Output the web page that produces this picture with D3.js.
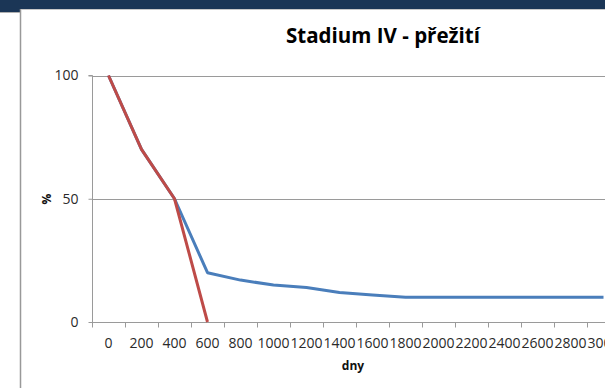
<!DOCTYPE html>
<html>
<head>
<meta charset="utf-8">
<script src="https://cdn.jsdelivr.net/npm/d3@7"></script>
<style>
  html, body { margin: 0; padding: 0; background: #fff; overflow: hidden; }
  svg { display: block; }
</style>
</head>
<body>
<svg id="chart" width="605" height="388"></svg>
<script>
// Survival over time (days), stage IV
const days = ["0","200","400","600","800","1000","1200","1400","1600","1800","2000","2200","2400","2600","2800","3000"];
const survivalBlue = [100, 70, 50, 20, 17, 15, 14, 12, 11, 10, 10, 10, 10, 10, 10, 10];
const survivalRed  = [100, 70, 50, 0, null, null, null, null, null, null, null, null, null, null, null, null];
const yTicks = [0, 50, 100];

const svg = d3.select("#chart");
const W = 605, H = 388;

// slide background strip and chart frame
svg.append("rect").attr("x", 0).attr("y", 0).attr("width", W).attr("height", 12).attr("fill", "#1b3656");
svg.append("rect").attr("x", 21).attr("y", 9).attr("width", W - 21).attr("height", H - 9).attr("fill", "#fff");
svg.append("line").attr("x1", 0).attr("x2", 20).attr("y1", 12.5).attr("y2", 12.5).attr("stroke", "#b0b0b0").attr("stroke-width", 1);
svg.append("line").attr("x1", 20.5).attr("x2", 20.5).attr("y1", 9).attr("y2", H).attr("stroke", "#999").attr("stroke-width", 1.5);
svg.append("line").attr("x1", 21).attr("x2", W).attr("y1", 9.5).attr("y2", 9.5).attr("stroke", "#c8c8c8").attr("stroke-width", 1);

const x = d3.scaleBand().domain(days).range([92, 92 + 33 * days.length]);
const y = d3.scaleLinear().domain([0, 100]).range([322, 75.5]);

const labelFont = "'Open Sans', sans-serif";

// horizontal gridlines
svg.append("g").selectAll("line").data(yTicks.filter(d => d > 0)).join("line")
  .attr("x1", 92).attr("x2", W)
  .attr("y1", d => Math.round(y(d)) + 0.5).attr("y2", d => Math.round(y(d)) + 0.5)
  .attr("stroke", "#9a9a9a").attr("stroke-width", 1);

// y axis
const yAxis = svg.append("g").attr("transform", "translate(92.5,0)")
  .call(d3.axisLeft(y).tickValues(yTicks).tickSize(4).tickPadding(10));
yAxis.select(".domain").attr("stroke", "#9a9a9a").attr("d", `M-4,${y(100)}H0V${y(0) + 0.5}`);
yAxis.selectAll(".tick line").attr("stroke", "#9a9a9a");
yAxis.selectAll(".tick text").attr("fill", "#2a2a2a").style("font-family", labelFont).style("font-size", "14px");

// x axis: ticks sit at category boundaries
const xAxisG = svg.append("g").attr("transform", `translate(0,${Math.round(y(0)) + 0.5})`);
xAxisG.append("line").attr("x1", 92).attr("x2", W).attr("stroke", "#9a9a9a");
const bounds = days.map(d => x(d)).concat([x(days[days.length - 1]) + x.bandwidth()]);
xAxisG.selectAll("line.tk").data(bounds).join("line").attr("class", "tk")
  .attr("x1", d => Math.round(d) + 0.5).attr("x2", d => Math.round(d) + 0.5)
  .attr("y1", 0).attr("y2", 5).attr("stroke", "#9a9a9a");
xAxisG.selectAll("text").data(days).join("text")
  .attr("x", d => x(d) + x.bandwidth() / 2).attr("y", 25)
  .attr("text-anchor", "middle").attr("fill", "#2a2a2a")
  .style("font-family", labelFont).style("font-size", "14px")
  .text(d => d);

// axis titles
svg.append("text").attr("x", 353).attr("y", 370).attr("text-anchor", "middle")
  .style("font-family", labelFont).style("font-size", "12px").style("font-weight", "bold")
  .attr("fill", "#111").text("dny");
svg.append("text").attr("transform", "translate(51,199) rotate(-90)").attr("text-anchor", "middle")
  .style("font-family", labelFont).style("font-size", "12px").style("font-weight", "bold")
  .attr("fill", "#111").text("%");

// chart title
svg.append("text").attr("x", 383).attr("y", 43).attr("text-anchor", "middle")
  .style("font-family", labelFont).style("font-size", "20.5px").style("font-weight", "bold")
  .attr("fill", "#000").text("Stadium IV - přežití");

// series lines
const line = d3.line()
  .defined(d => d.v != null)
  .x(d => x(d.k) + x.bandwidth() / 2)
  .y(d => y(d.v));

const toPts = arr => days.map((k, i) => ({ k, v: arr[i] }));

svg.append("path").datum(toPts(survivalBlue)).attr("d", line)
  .attr("fill", "none").attr("stroke", "#4a7ebb").attr("stroke-width", 3).attr("stroke-linejoin", "round");
svg.append("path").datum(toPts(survivalRed)).attr("d", line)
  .attr("fill", "none").attr("stroke", "#be4b48").attr("stroke-width", 3).attr("stroke-linejoin", "round");
</script>
</body>
</html>
